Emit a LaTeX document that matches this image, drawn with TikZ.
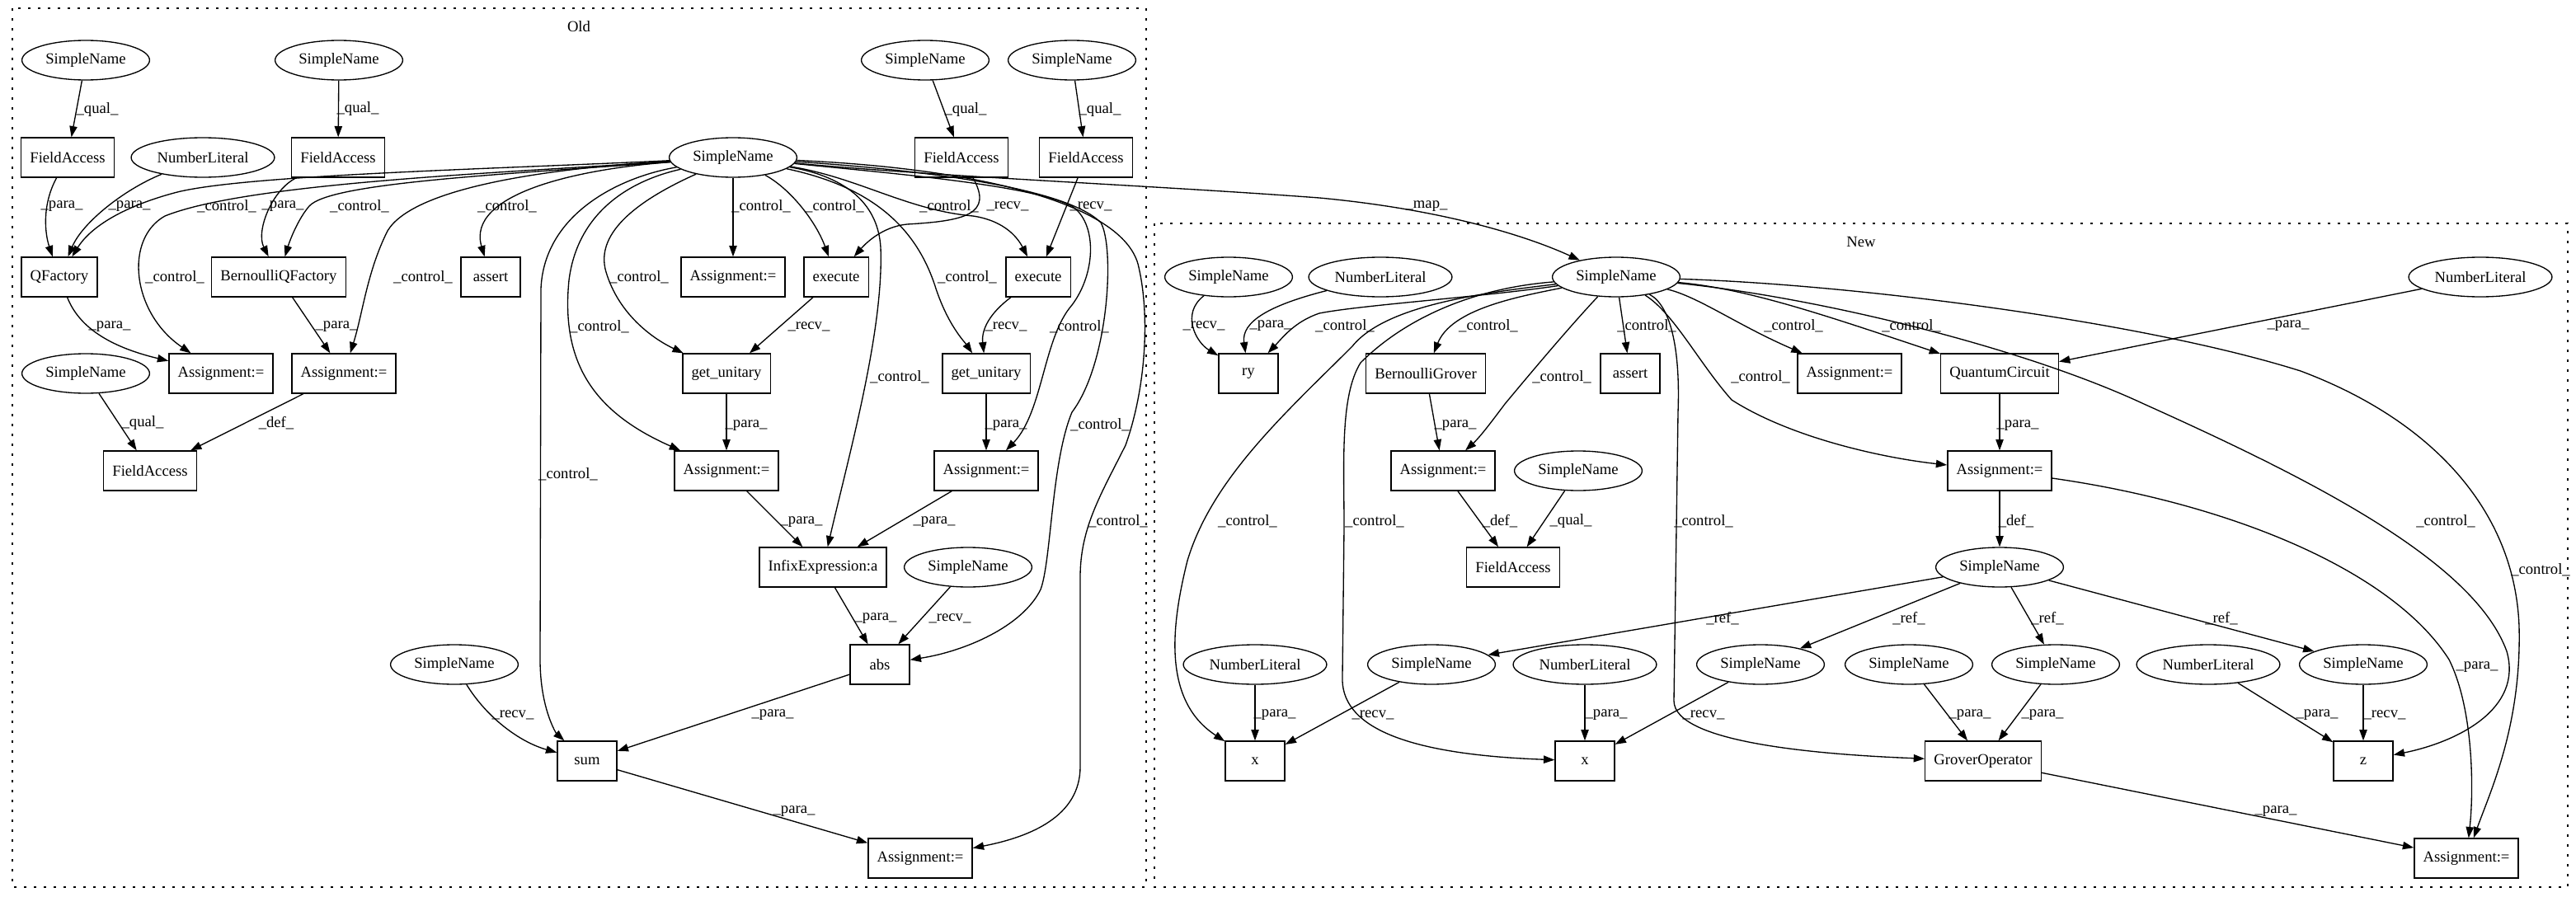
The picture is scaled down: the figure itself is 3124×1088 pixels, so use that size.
\documentclass[tikz,border=0pt]{standalone}
\usepackage{fontspec}
\setmainfont{Liberation Serif}
\usetikzlibrary{shapes.geometric,arrows.meta}
\newcommand\Lc{\_control\_}
\newcommand\Lp{\_para\_}
\newcommand\Lr{\_recv\_}
\newcommand\Lq{\_qual\_}
\newcommand\Ld{\_def\_}
\newcommand\Lf{\_ref\_}
\newcommand\Fs{\fontsize{14pt}{16pt}\selectfont}
\tikzset{
  nb/.style={draw, rectangle, line width=1pt, minimum height=36pt, minimum width=54pt, inner xsep=8pt, inner ysep=0pt, font=\Fs},
  ne/.style={draw, ellipse, line width=1pt, minimum height=36pt, inner xsep=4.5pt, inner ysep=0pt, font=\Fs},
  lb/.style={inner sep=0pt, font=\Fs},
  cn/.style={line width=1pt, -{Triangle[length=10pt,width=7pt]}},
  clu/.style={line width=1pt, dash pattern=on 2pt off 7pt}
}
\begin{document}
\begin{tikzpicture}[x=0.75pt,y=-0.75pt]
\useasboundingbox (0,0) rectangle (3124,1088);
% clusters
\draw[clu] (15,10) rectangle (1390,1076);
\draw[clu] (1400,271) rectangle (3114,1076);
\node[lb] (tOld) at (702,32) {Old};
\node[lb] (tNew) at (2257,293) {New};
% ---------- Old nodes
\node[ne] (o_sn1) at (104,73) {SimpleName};
\node[ne] (o_sn2) at (411,73) {SimpleName};
\node[ne] (o_sn3) at (1122,73) {SimpleName};
\node[ne] (o_sn4) at (1300,73) {SimpleName};
\node[nb] (o_fa1) at (82,191) {FieldAccess};
\node[ne] (o_nl1) at (246,191) {NumberLiteral};
\node[nb] (o_fa2) at (410,191) {FieldAccess};
\node[ne] (o_hub) at (889,191) {SimpleName};
\node[nb] (o_fa3) at (1166,191) {FieldAccess};
\node[nb] (o_fa4) at (1317,191) {FieldAccess};
\node[nb] (o_qf) at (72,336) {QFactory};
\node[nb] (o_bqf) at (338,336) {BernoulliQFactory};
\node[nb] (o_as) at (595,336) {assert};
\node[nb] (o_a1) at (889,336) {Assignment:=};
\node[nb] (o_ex1) at (1014,336) {execute};
\node[nb] (o_ex2) at (1259,336) {execute};
\node[ne] (o_sn5) at (104,453) {SimpleName};
\node[nb] (o_a2) at (268,453) {Assignment:=};
\node[nb] (o_a3) at (417,453) {Assignment:=};
\node[nb] (o_gu1) at (881,453) {get\_unitary};
\node[nb] (o_gu2) at (1196,453) {get\_unitary};
\node[nb] (o_fa5) at (182,571) {FieldAccess};
\node[nb] (o_a4) at (881,571) {Assignment:=};
\node[nb] (o_a5) at (1196,571) {Assignment:=};
\node[nb] (o_inf) at (998,688) {InfixExpression:a};
\node[ne] (o_sn6) at (1174,688) {SimpleName};
\node[ne] (o_sn7) at (551,806) {SimpleName};
\node[nb] (o_abs) at (1067,806) {abs};
\node[nb] (o_sum) at (712,923) {sum};
\node[nb] (o_a6) at (1116,1041) {Assignment:=};
% ---------- New nodes
\node[ne] (n_sn1) at (1490,336) {SimpleName};
\node[ne] (n_nl1) at (1674,336) {NumberLiteral};
\node[ne] (n_hub) at (1960,336) {SimpleName};
\node[ne] (n_nl2) at (3008,336) {NumberLiteral};
\node[nb] (n_ry) at (1514,453) {ry};
\node[nb] (n_bg) at (1729,453) {BernoulliGrover};
\node[nb] (n_as) at (1977,453) {assert};
\node[nb] (n_a1) at (2243,453) {Assignment:=};
\node[nb] (n_qc) at (2425,453) {QuantumCircuit};
\node[nb] (n_a2) at (1750,571) {Assignment:=};
\node[ne] (n_sn2) at (1914,571) {SimpleName};
\node[nb] (n_a3) at (2425,571) {Assignment:=};
\node[nb] (n_fa) at (1835,688) {FieldAccess};
\node[ne] (n_sn3) at (2425,688) {SimpleName};
\node[ne] (n_nl3) at (1522,806) {NumberLiteral};
\node[ne] (n_sn4) at (1736,806) {SimpleName};
\node[ne] (n_nl4) at (1922,806) {NumberLiteral};
\node[ne] (n_sn5) at (2135,806) {SimpleName};
\node[ne] (n_sn6) at (2315,806) {SimpleName};
\node[ne] (n_sn7) at (2493,806) {SimpleName};
\node[ne] (n_nl5) at (2678,806) {NumberLiteral};
\node[ne] (n_sn8) at (2866,806) {SimpleName};
\node[nb] (n_x1) at (1522,923) {x};
\node[nb] (n_x2) at (1922,923) {x};
\node[nb] (n_go) at (2405,923) {GroverOperator};
\node[nb] (n_z) at (2866,923) {z};
\node[nb] (n_a4) at (2991,1041) {Assignment:=};
% ---------- Old edges
\draw[cn] (o_sn1) -- (o_fa1);
\draw[cn] (o_sn2) -- (o_fa2);
\draw[cn] (o_sn3) -- (o_fa3);
\draw[cn] (o_sn4) -- (o_fa4);
\draw[cn] (o_fa1) .. controls (50,250) and (55,285) .. (o_qf);
\draw[cn] (o_nl1) .. controls (150,230) and (100,270) .. (o_qf);
\draw[cn] (o_hub) .. controls (600,205) and (300,212) .. (215,233) .. controls (150,250) and (110,275) .. (o_qf);
\draw[cn] (o_hub) .. controls (600,210) and (300,222) .. (200,262) .. controls (150,290) and (160,380) .. (o_a2);
\draw[cn] (o_fa2) .. controls (330,230) and (310,280) .. (o_bqf);
\draw[cn] (o_hub) .. controls (600,212) and (400,222) .. (375,250) .. controls (362,265) and (352,290) .. (o_bqf);
\draw[cn] (o_hub) .. controls (650,205) and (500,230) .. (470,280) .. controls (445,330) and (440,380) .. (o_a3);
\draw[cn] (o_hub) .. controls (700,205) and (565,235) .. (o_as);
\draw[cn] (o_hub) .. controls (750,215) and (660,260) .. (656,350) -- (655,800) .. controls (655,860) and (675,890) .. (o_sum);
\draw[cn] (o_hub) .. controls (760,220) and (700,260) .. (690,340) .. controls (680,440) and (720,500) .. (o_a4);
\draw[cn] (o_hub) .. controls (780,240) and (720,280) .. (735,330) .. controls (750,380) and (790,410) .. (o_gu1);
\draw[cn] (o_hub) -- (o_a1);
\draw[cn] (o_hub) .. controls (960,230) and (990,270) .. (o_ex1);
\draw[cn] (o_fa3) .. controls (1205,260) and (1170,268) .. (1100,272) .. controls (1070,275) and (1050,295) .. (o_ex1);
\draw[cn] (o_hub) .. controls (1040,215) and (1100,255) .. (1180,262) .. controls (1220,268) and (1235,290) .. (o_ex2);
\draw[cn] (o_fa4) -- (o_ex2);
\draw[cn] (o_ex1) -- (o_gu1);
\draw[cn] (o_ex2) .. controls (1200,380) and (1190,400) .. (o_gu2);
\draw[cn] (o_hub) .. controls (1050,225) and (1110,270) .. (1135,350) .. controls (1150,395) and (1170,415) .. (o_gu2);
\draw[cn] (o_hub) .. controls (1100,212) and (1250,225) .. (1300,250) .. controls (1330,270) and (1330,330) .. (1300,370) .. controls (1265,410) and (1265,500) .. (o_a5);
\draw[cn] (o_gu1) -- (o_a4);
\draw[cn] (o_gu2) -- (o_a5);
\draw[cn] (o_hub) .. controls (1030,215) and (1065,250) .. (1068,300) .. controls (1072,400) and (1030,550) .. (o_inf);
\draw[cn] (o_a4) -- (o_inf);
\draw[cn] (o_a5) -- (o_inf);
\draw[cn] (o_inf) -- (o_abs);
\draw[cn] (o_sn6) -- (o_abs);
\draw[cn] (o_hub) .. controls (1100,205) and (1290,225) .. (1335,270) .. controls (1352,300) and (1345,440) .. (1300,500) .. controls (1275,560) and (1275,680) .. (1262,715) .. controls (1240,760) and (1170,790) .. (o_abs);
\draw[cn] (o_hub) .. controls (1200,205) and (1360,250) .. (1380,320) .. controls (1395,380) and (1390,470) .. (1365,540) .. controls (1335,600) and (1310,640) .. (1310,700) -- (1310,930) .. controls (1310,990) and (1250,1015) .. (o_a6);
\draw[cn] (o_abs) -- (o_sum);
\draw[cn] (o_sn7) .. controls (590,870) and (630,900) .. (o_sum);
\draw[cn] (o_sum) -- (o_a6);
\draw[cn] (o_qf) .. controls (95,395) and (130,420) .. (o_a2);
\draw[cn] (o_bqf) -- (o_a3);
\draw[cn] (o_a3) -- (o_fa5);
\draw[cn] (o_sn5) -- (o_fa5);
\draw[cn] (o_hub) .. controls (1150,215) and (1400,225) .. (1600,240) .. controls (1760,255) and (1860,290) .. (n_hub);
% ---------- New edges
\draw[cn] (n_sn1) .. controls (1432,380) and (1450,415) .. (n_ry);
\draw[cn] (n_nl1) .. controls (1540,370) and (1505,390) .. (n_ry);
\draw[cn] (n_hub) .. controls (1800,360) and (1650,370) .. (1600,380) .. controls (1570,390) and (1555,410) .. (n_ry);
\draw[cn] (n_hub) .. controls (1840,360) and (1760,375) .. (n_bg);
\draw[cn] (n_hub) -- (n_as);
\draw[cn] (n_hub) .. controls (2060,360) and (2108,395) .. (n_a1);
\draw[cn] (n_hub) .. controls (2120,350) and (2218,384) .. (n_qc);
\draw[cn] (n_nl2) -- (n_qc);
\draw[cn] (n_bg) -- (n_a2);
\draw[cn] (n_hub) .. controls (1900,400) and (1850,460) .. (1825,490) .. controls (1810,510) and (1795,530) .. (n_a2);
\draw[cn] (n_a2) -- (n_fa);
\draw[cn] (n_sn2) -- (n_fa);
\draw[cn] (n_qc) -- (n_a3);
\draw[cn] (n_hub) .. controls (2030,380) and (2060,440) .. (2100,485) .. controls (2170,530) and (2280,555) .. (n_a3);
\draw[cn] (n_a3) -- (n_sn3);
\draw[cn] (n_a3) .. controls (2700,610) and (2900,690) .. (2970,800) .. controls (3000,860) and (3000,960) .. (n_a4);
\draw[cn] (n_sn3) -- (n_sn4);
\draw[cn] (n_sn3) -- (n_sn5);
\draw[cn] (n_sn3) -- (n_sn7);
\draw[cn] (n_sn3) -- (n_sn8);
\draw[cn] (n_nl3) -- (n_x1);
\draw[cn] (n_sn4) -- (n_x1);
\draw[cn] (n_nl4) -- (n_x2);
\draw[cn] (n_sn5) -- (n_x2);
\draw[cn] (n_sn6) -- (n_go);
\draw[cn] (n_sn7) -- (n_go);
\draw[cn] (n_nl5) -- (n_z);
\draw[cn] (n_sn8) -- (n_z);
\draw[cn] (n_go) -- (n_a4);
\draw[cn] (n_hub) .. controls (1800,355) and (1680,370) .. (1640,420) .. controls (1560,500) and (1470,580) .. (1440,680) .. controls (1420,760) and (1410,850) .. (n_x1);
\draw[cn] (n_hub) .. controls (1780,350) and (1700,390) .. (1650,440) .. controls (1625,480) and (1630,560) .. (1630,640) -- (1628,820) .. controls (1625,880) and (1700,915) .. (n_x2);
\draw[cn] (n_hub) .. controls (2025,370) and (2038,420) .. (2035,500) -- (2030,850) .. controls (2030,900) and (2200,915) .. (n_go);
\draw[cn] (n_hub) .. controls (2200,360) and (2450,420) .. (2600,490) .. controls (2800,580) and (3000,680) .. (3040,790) .. controls (3060,860) and (2980,900) .. (n_z);
\draw[cn] (n_hub) .. controls (2250,345) and (2600,390) .. (2790,450) .. controls (2950,510) and (3050,620) .. (3055,760) .. controls (3058,880) and (3020,960) .. (n_a4);
% ---------- Old labels
\node[lb] (l1) at (118,133) {\Lq};
\node[lb] (l2) at (434,132) {\Lq};
\node[lb] (l3) at (1171,133) {\Lq};
\node[lb] (l4) at (1334,133) {\Lq};
\node[lb] (l5) at (75,250) {\Lp};
\node[lb] (l6) at (157,250) {\Lp};
\node[lb] (l7) at (275,250) {\Lc};
\node[lb] (l8) at (343,250) {\Lp};
\node[lb] (l9) at (436,250) {\Lc};
\node[lb] (l10) at (615,250) {\Lc};
\node[lb] (l11) at (923,250) {\Lc};
\node[lb] (l12) at (1012,250) {\Lc};
\node[lb] (l13) at (1151,250) {\Lc};
\node[lb] (l14) at (1222,250) {\Lr};
\node[lb] (l15) at (1323,250) {\Lr};
\node[lb] (l16) at (212,336) {\Lc};
\node[lb] (l17) at (513,336) {\Lc};
\node[lb] (l18) at (775,336) {\Lc};
\node[lb] (l19) at (1173,336) {\Lc};
\node[lb] (l20) at (133,396) {\Lp};
\node[lb] (l21) at (408,396) {\Lp};
\node[lb] (l22) at (727,396) {\Lc};
\node[lb] (l23) at (981,396) {\Lr};
\node[lb] (l24) at (1220,396) {\Lr};
\node[lb] (l25) at (1309,396) {\Lc};
\node[lb] (l26) at (173,513) {\Lq};
\node[lb] (l27) at (335,513) {\Ld};
\node[lb] (l28) at (905,516) {\Lp};
\node[lb] (l29) at (1220,516) {\Lp};
\node[lb] (l30) at (1091,457) {\Lc};
\node[lb] (l31) at (1334,515) {\Lc};
\node[lb] (l32) at (689,575) {\Lc};
\node[lb] (l33) at (972,633) {\Lp};
\node[lb] (l34) at (1133,633) {\Lp};
\node[lb] (l35) at (1356,632) {\Lc};
\node[lb] (l36) at (1062,750) {\Lp};
\node[lb] (l37) at (1152,750) {\Lr};
\node[lb] (l38) at (937,867) {\Lp};
\node[lb] (l39) at (622,867) {\Lr};
\node[lb] (l40) at (963,984) {\Lp};
\node[lb] (l41) at (1730,250) {\_map\_};
% ---------- New labels
\node[lb] (m1) at (1460,395) {\Lr};
\node[lb] (m2) at (1541,395) {\Lp};
\node[lb] (m3) at (1631,395) {\Lc};
\node[lb] (m4) at (1805,395) {\Lc};
\node[lb] (m5) at (1997,395) {\Lc};
\node[lb] (m6) at (2175,395) {\Lc};
\node[lb] (m7) at (2318,395) {\Lc};
\node[lb] (m8) at (2775,395) {\Lp};
\node[lb] (m9) at (1765,516) {\Lp};
\node[lb] (m10) at (1894,457) {\Lc};
\node[lb] (m11) at (2135,457) {\Lc};
\node[lb] (m12) at (2447,516) {\Lp};
\node[lb] (m13) at (1819,632) {\Ld};
\node[lb] (m14) at (1905,632) {\Lq};
\node[lb] (m15) at (2445,632) {\Ld};
\node[lb] (m16) at (1513,632) {\Lc};
\node[lb] (m17) at (1667,632) {\Lc};
\node[lb] (m18) at (2066,632) {\Lc};
\node[lb] (m19) at (2966,632) {\Lc};
\node[lb] (m20) at (3081,691) {\Lc};
\node[lb] (m21) at (3004,809) {\Lp};
\node[lb] (m22) at (2089,750) {\Lf};
\node[lb] (m23) at (2315,750) {\Lf};
\node[lb] (m24) at (2483,750) {\Lf};
\node[lb] (m25) at (2694,750) {\Lf};
\node[lb] (m26) at (1546,867) {\Lp};
\node[lb] (m27) at (1665,867) {\Lr};
\node[lb] (m28) at (1948,867) {\Lp};
\node[lb] (m29) at (2066,867) {\Lr};
\node[lb] (m30) at (2389,867) {\Lp};
\node[lb] (m31) at (2477,867) {\Lp};
\node[lb] (m32) at (2810,867) {\Lp};
\node[lb] (m33) at (2892,867) {\Lr};
\node[lb] (m34) at (2760,984) {\Lp};
\end{tikzpicture}
\end{document}
